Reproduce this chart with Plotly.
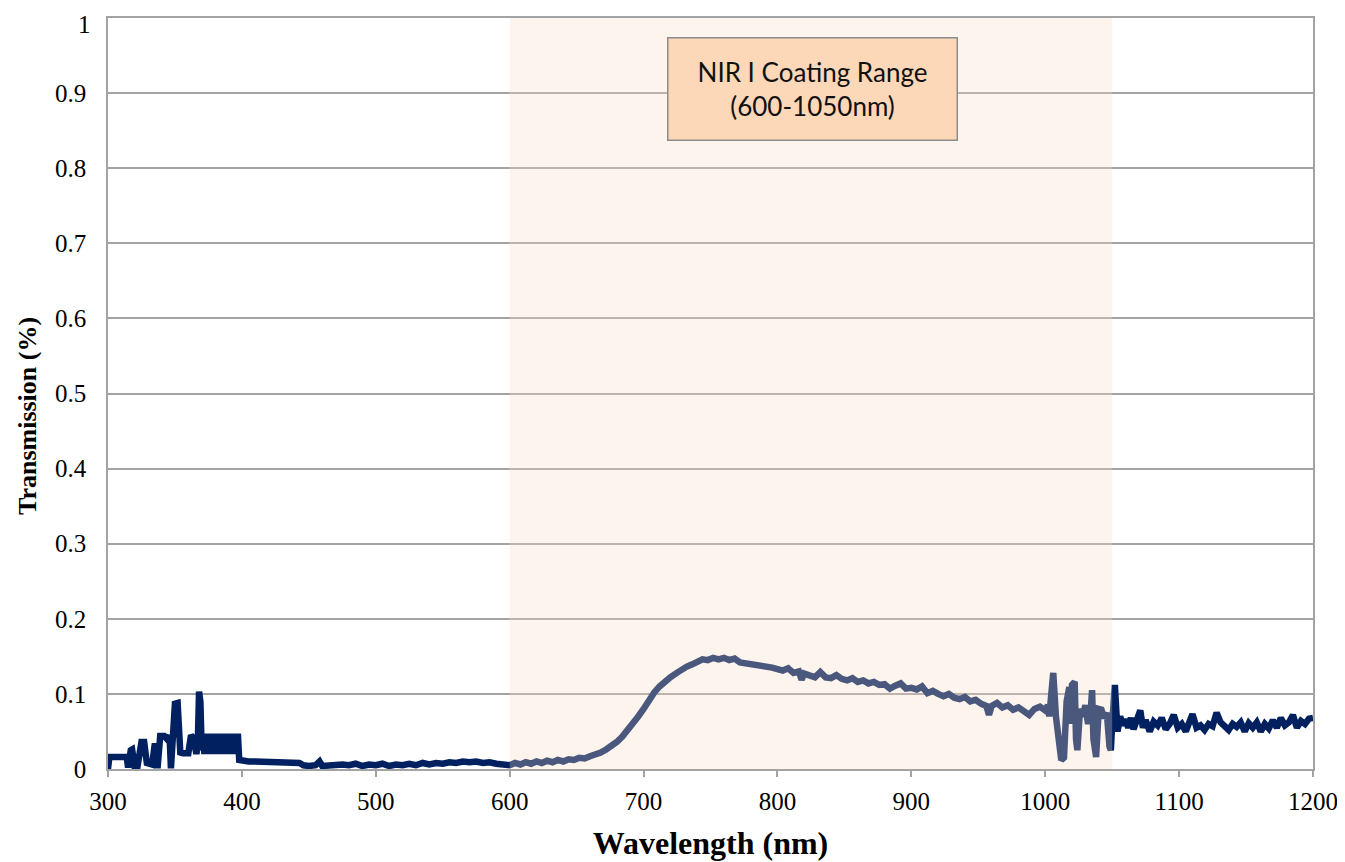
import plotly.graph_objects as go

# ---- data ----
wl_uv = [300, 301, 314, 315, 317, 318, 320, 322, 325, 327, 329, 331, 333, 335, 336, 337,
         339, 342, 344, 346, 347, 349, 350, 352, 354, 356, 358, 360, 362, 364, 366, 367,
         368, 369, 370, 371, 372, 373, 374, 375, 376, 377, 378, 379, 380, 381, 382, 383,
         384, 385, 386, 387, 388, 389, 390, 391, 392, 393, 394, 395, 396, 397, 398]
tr_uv = [0.0, 0.016, 0.016, 0.002, 0.025, 0.026, 0.002, 0.003, 0.036, 0.036, 0.008, 0.006,
         0.006, 0.034, 0.002, 0.001, 0.044, 0.044, 0.040, 0.044, 0.001, 0.045, 0.087, 0.088,
         0.022, 0.021, 0.021, 0.021, 0.045, 0.040, 0.020, 0.030, 0.103, 0.090, 0.025, 0.047,
         0.020, 0.047, 0.022, 0.046, 0.020, 0.047, 0.021, 0.047, 0.020, 0.046, 0.022, 0.047,
         0.020, 0.047, 0.021, 0.046, 0.020, 0.047, 0.022, 0.047, 0.020, 0.047, 0.021, 0.046,
         0.020, 0.047, 0.012]

wl_vis = [400, 405, 410, 415, 420, 425, 430, 435, 440, 443, 446, 450, 455, 458, 460, 465,
          470, 475, 480, 485, 490, 495, 500, 505, 510, 515, 520, 525, 530, 535, 540, 545,
          550, 555, 560, 565, 570, 575, 580, 585, 590, 595]
tr_vis = [0.011, 0.010, 0.010, 0.010, 0.010, 0.009, 0.009, 0.009, 0.008, 0.008, 0.005, 0.004,
          0.005, 0.010, 0.004, 0.005, 0.004, 0.006, 0.005, 0.007, 0.004, 0.006, 0.005, 0.007,
          0.004, 0.006, 0.005, 0.007, 0.005, 0.008, 0.006, 0.008, 0.007, 0.009, 0.008, 0.010,
          0.009, 0.010, 0.008, 0.009, 0.007, 0.006]

wl_nir = [600, 604, 608, 612, 616, 620, 624, 628, 632, 636, 640, 644, 648, 652, 656, 660,
          664, 668, 672, 676, 680, 684, 688, 692, 696, 700, 704, 708, 712, 716, 720, 724,
          728, 732, 736, 740, 744, 748, 752, 756, 760, 764, 768, 772, 776, 780, 784, 788,
          792, 796, 800, 804, 808, 812, 816, 818, 820, 824, 828, 832, 836, 840, 844, 848,
          852, 856, 860, 864, 868, 872, 876, 880, 884, 888, 892, 896, 900, 904, 908, 912,
          916, 920, 924, 928, 932, 936, 940, 944, 948, 952, 956, 958, 960, 964, 968, 972,
          976, 980, 984, 988, 992, 996, 1000]
tr_nir = [0.005, 0.008, 0.006, 0.009, 0.007, 0.010, 0.008, 0.011, 0.009, 0.012, 0.010, 0.013,
          0.012, 0.015, 0.014, 0.017, 0.019, 0.022, 0.026, 0.030, 0.036, 0.043, 0.051, 0.060,
          0.070, 0.080, 0.092, 0.102, 0.110, 0.117, 0.122, 0.127, 0.132, 0.136, 0.139, 0.143,
          0.146, 0.145, 0.148, 0.146, 0.148, 0.145, 0.147, 0.142, 0.141, 0.139, 0.140, 0.137,
          0.136, 0.135, 0.133, 0.131, 0.134, 0.128, 0.130, 0.119, 0.127, 0.124, 0.122, 0.129,
          0.122, 0.121, 0.125, 0.120, 0.118, 0.121, 0.116, 0.118, 0.114, 0.116, 0.112, 0.113,
          0.107, 0.111, 0.114, 0.107, 0.108, 0.106, 0.110, 0.101, 0.104, 0.100, 0.097, 0.100,
          0.095, 0.093, 0.096, 0.090, 0.092, 0.087, 0.084, 0.072, 0.084, 0.088, 0.082, 0.085,
          0.079, 0.082, 0.078, 0.072, 0.080, 0.083, 0.078]

wl_edge = [1002, 1003, 1005, 1006, 1008, 1010, 1012, 1014, 1016, 1018, 1019, 1020, 1022,
           1023, 1024, 1026, 1028, 1030, 1032, 1034, 1035, 1036, 1038, 1040, 1042, 1044,
           1046, 1048, 1049]
tr_edge = [0.085, 0.070, 0.127, 0.128, 0.070, 0.040, 0.012, 0.015, 0.090, 0.109, 0.060,
           0.112, 0.116, 0.040, 0.025, 0.080, 0.070, 0.085, 0.060, 0.078, 0.105, 0.040,
           0.016, 0.080, 0.079, 0.068, 0.075, 0.030, 0.025]

wl_ir = [1050, 1052, 1054, 1056, 1058, 1060, 1062, 1064, 1066, 1068, 1071, 1073, 1075, 1078,
         1081, 1084, 1087, 1090, 1093, 1096, 1099, 1102, 1105, 1108, 1110, 1113, 1116, 1119,
         1122, 1125, 1128, 1131, 1134, 1137, 1140, 1143, 1146, 1149, 1152, 1155, 1158, 1161,
         1164, 1167, 1170, 1173, 1176, 1179, 1182, 1185, 1188, 1191, 1194, 1197, 1200]
tr_ir = [0.060, 0.112, 0.050, 0.070, 0.058, 0.066, 0.055, 0.068, 0.053, 0.062, 0.078, 0.055,
         0.065, 0.050, 0.063, 0.058, 0.068, 0.053, 0.060, 0.072, 0.055, 0.060, 0.050, 0.064,
         0.073, 0.055, 0.058, 0.052, 0.060, 0.057, 0.075, 0.062, 0.058, 0.052, 0.060, 0.056,
         0.062, 0.050, 0.061, 0.055, 0.062, 0.050, 0.060, 0.054, 0.065, 0.055, 0.068, 0.058,
         0.062, 0.072, 0.055, 0.064, 0.060, 0.067, 0.068]

x_ticks = [300, 400, 500, 600, 700, 800, 900, 1000, 1100, 1200]
y_ticks = [0, 0.1, 0.2, 0.3, 0.4, 0.5, 0.6, 0.7, 0.8, 0.9]
y_tick_text = ["0", "0.1", "0.2", "0.3", "0.4", "0.5", "0.6", "0.7", "0.8", "0.9"]
y_top_tick, y_top_text = 1, "1"
band_start, band_end = 600, 1050
band_label = "NIR I Coating Range<br>(600-1050nm)"
x_title = "<b>Wavelength (nm)</b>"
y_title = "<b>Transmission (%)</b>"

wavelength = wl_uv + wl_vis + wl_nir + wl_edge + wl_ir
transmission = tr_uv + tr_vis + tr_nir + tr_edge + tr_ir

serif = "Liberation Serif, Times New Roman, serif"
grid = "#a3a3a3"

fig = go.Figure()
fig.add_trace(go.Scatter(
    x=wavelength, y=transmission, mode="lines",
    line=dict(color="#002060", width=6.5), showlegend=False, hoverinfo="skip"))

fig.add_shape(type="rect", xref="x", yref="y", x0=band_start, x1=band_end, y0=0, y1=1,
              fillcolor="rgb(248,220,196)", opacity=0.3, line=dict(width=0), layer="above")

fig.add_annotation(x=826.5, y=0.906, xref="x", yref="y", text=band_label, showarrow=False,
                   font=dict(family="Lato, Open Sans, sans-serif", size=26, color="#111111"),
                   bgcolor="#FCD7B8", bordercolor="#8c8c8c", borderwidth=1.5, borderpad=0,
                   width=288, height=101, align="center", valign="middle")

# top y tick label, kept inside the page edge
fig.add_annotation(x=0, xref="paper", y=y_top_tick, yref="y", text=y_top_text,
                   showarrow=False, xanchor="right", yanchor="top", yshift=9, xshift=-15,
                   font=dict(family=serif, size=25, color="black"))

# y axis title (placed slightly below the plot centre as in the reference)
fig.add_annotation(x=0, xref="paper", y=0.47, yref="paper", text=y_title, showarrow=False,
                   textangle=-90, xanchor="center", yanchor="middle", xshift=-81,
                   font=dict(family=serif, size=26, color="black"))

fig.update_layout(
    width=1337, height=854,
    margin=dict(l=100, r=32, t=10, b=93),
    paper_bgcolor="white", plot_bgcolor="white",
    xaxis=dict(range=[300, 1200], tickvals=x_ticks, showgrid=False, zeroline=False,
               automargin=False,
               showline=True, mirror=True, linecolor=grid, linewidth=1.5,
               ticks="outside", ticklen=6, tickwidth=1.5, tickcolor=grid,
               ticklabelstandoff=3,
               tickfont=dict(family=serif, size=25, color="black"),
               title=dict(text=x_title, standoff=18,
                          font=dict(family=serif, size=32, color="black"))),
    yaxis=dict(range=[0, 1], tickvals=y_ticks, ticktext=y_tick_text, showgrid=True,
               gridcolor=grid, gridwidth=1.5, zeroline=False, automargin=False,
               showline=True, mirror=True, linecolor=grid, linewidth=1.5,
               ticks="", ticklabelstandoff=15,
               tickfont=dict(family=serif, size=25, color="black")),
)

fig.write_html("out.html")
